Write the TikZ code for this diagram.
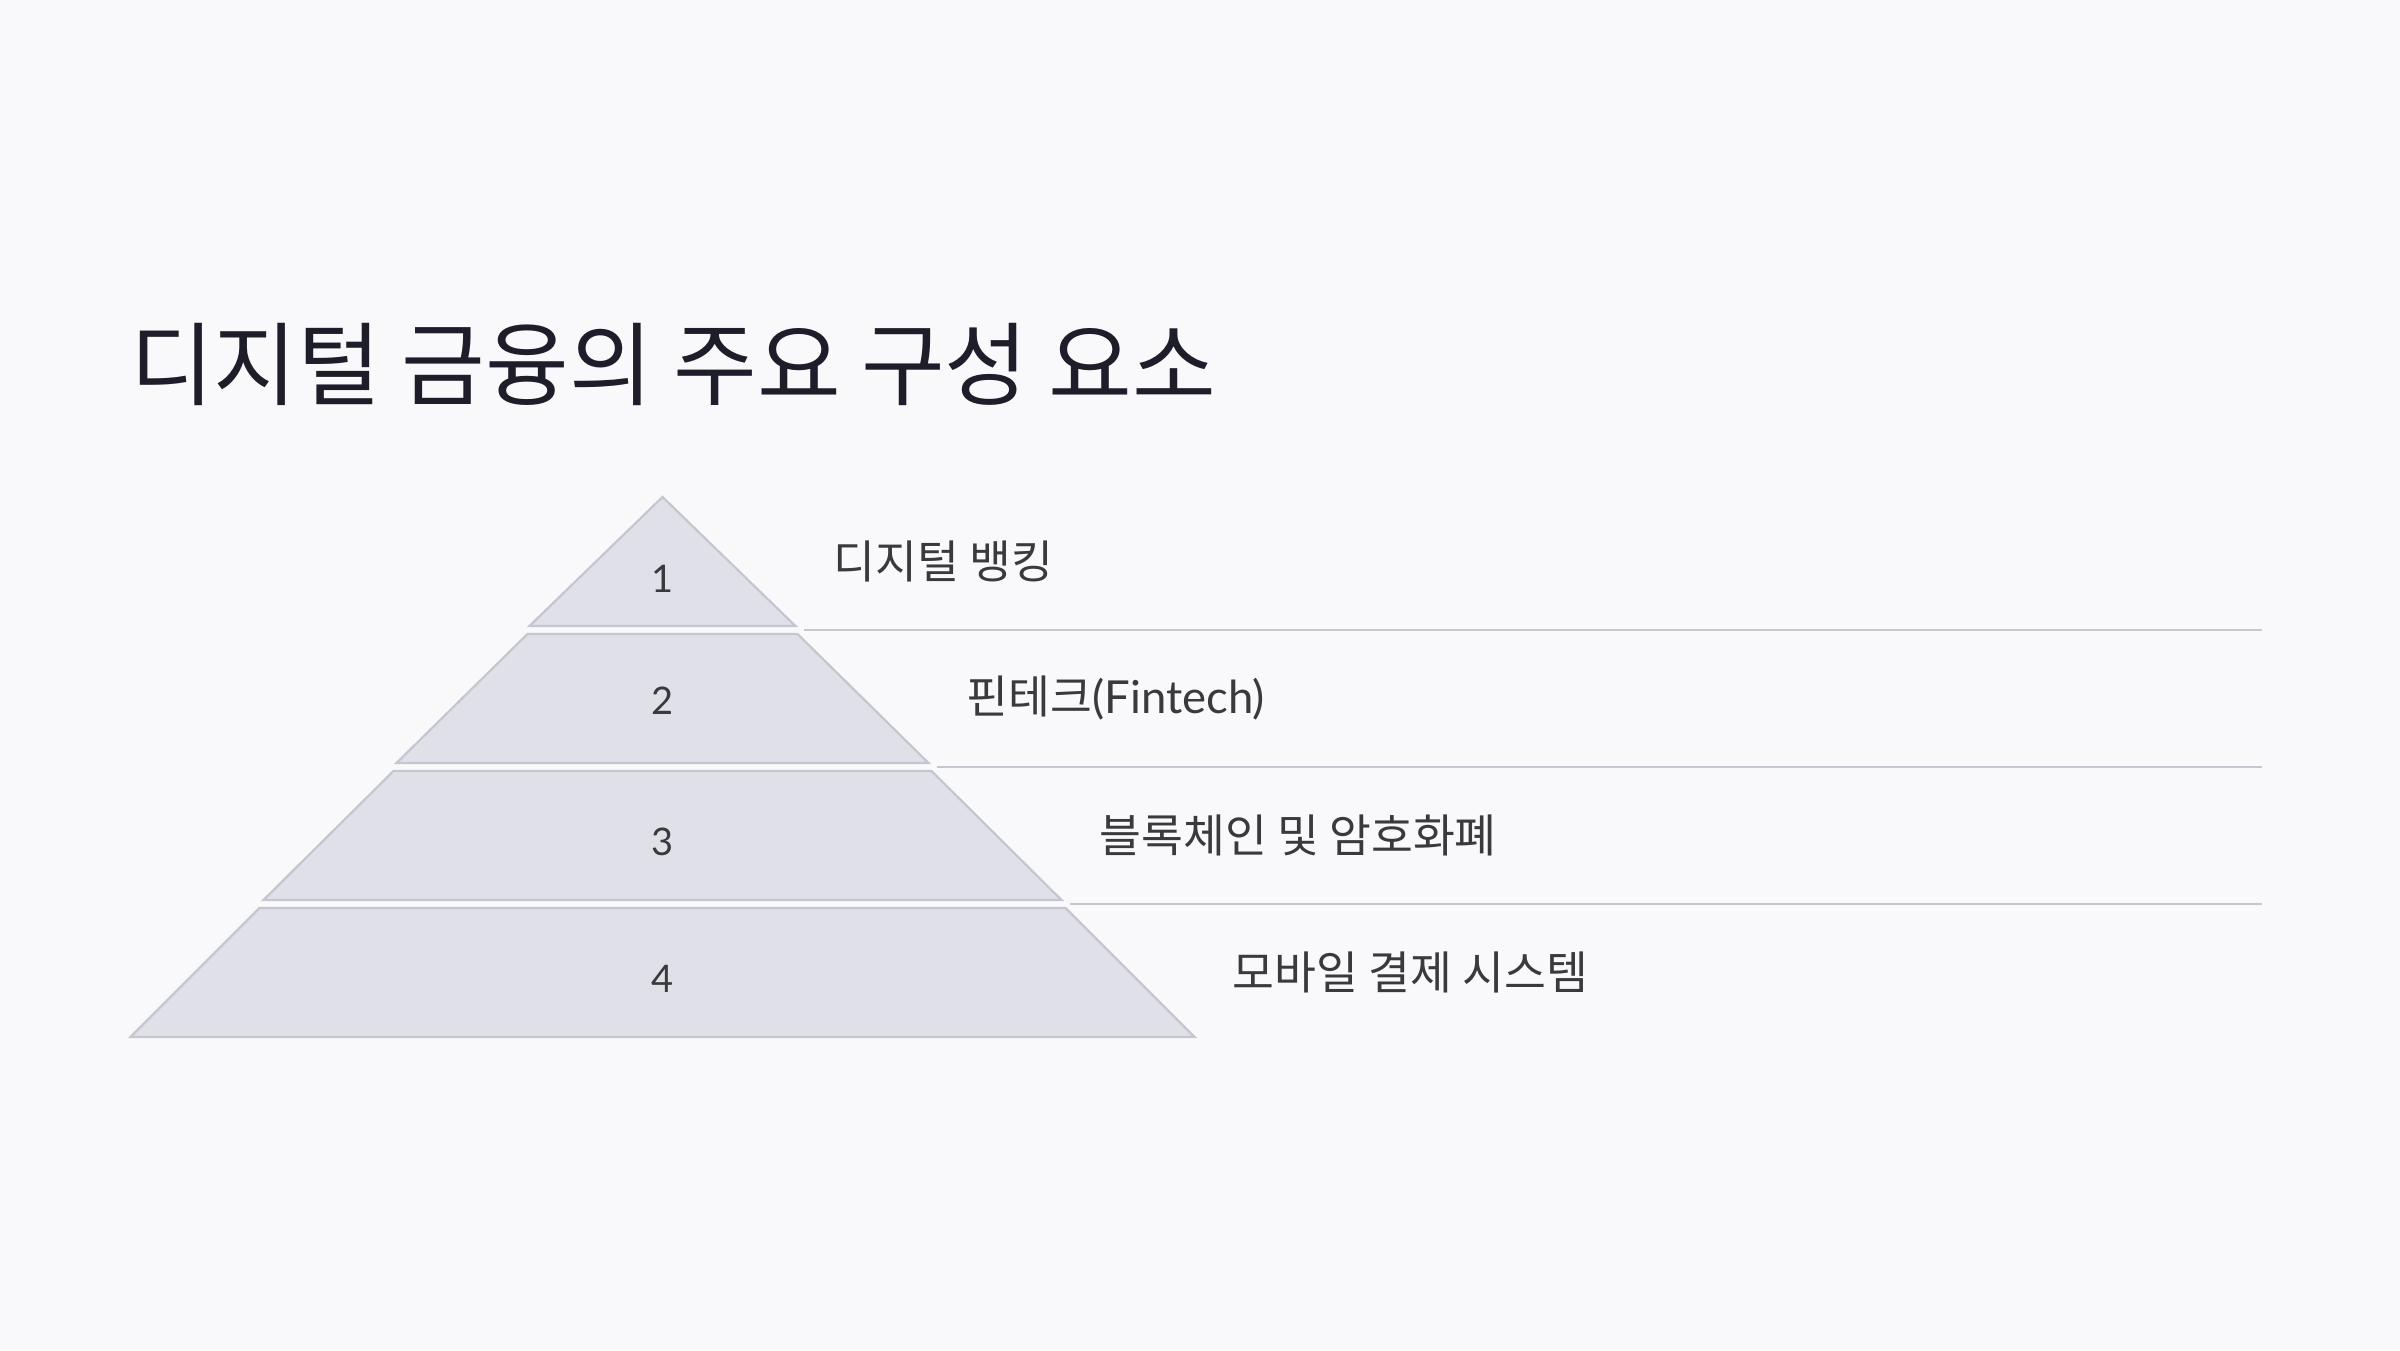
\documentclass[tikz,border=0pt]{standalone}
\usepackage{fontspec}
\setmainfont{Noto Sans CJK KR}
\newfontfamily\latfont{Lato}
\definecolor{bgc}{HTML}{F9F9FB}
\definecolor{layerfill}{HTML}{E0E1E8}
\definecolor{layerdraw}{HTML}{C6C6D0}
\definecolor{titlec}{HTML}{1E1D2A}
\definecolor{labelc}{HTML}{3A3A3C}
\tikzset{
  layer/.style={fill=layerfill, draw=layerdraw, line width=2.2pt, line join=miter},
  sepline/.style={draw=layerdraw, line width=2pt},
  numtext/.style={font=\latfont\fontsize{38}{44}\selectfont, text=labelc, inner sep=0pt},
  labeltext/.style={font=\fontsize{45.5}{54}\selectfont, text=labelc, inner sep=0pt, anchor=west},
}
\begin{document}
\begin{tikzpicture}[x=1pt,y=-1pt]
\useasboundingbox[fill=bgc] (0,0) rectangle (2400,1350);
\node[anchor=base west, font=\fontsize{91}{108}\selectfont, text=titlec, inner sep=0pt] (title) at (130,398) {디지털 금융의 주요 구성 요소};
% layers
\draw[layer] (662.5,497) -- (795.5,626) -- (529.5,626) -- cycle;
\draw[layer] (527.5,634) -- (797.5,634) -- (928.5,763) -- (396.5,763) -- cycle;
\draw[layer] (393.5,771) -- (931.5,771) -- (1061.5,900) -- (263.5,900) -- cycle;
\draw[layer] (259.5,908) -- (1065.5,908) -- (1194.5,1037) -- (130.5,1037) -- cycle;
% numbers
\node[numtext] (n1) at (662.5,579) {1};
\node[numtext] (n2) at (662.5,701) {2};
\node[numtext] (n3) at (662.5,842) {3};
\node[numtext] (n4) at (662.5,979) {4};
% separator lines
\coordinate (s1a) at (803.5,630); \coordinate (s1b) at (2262,630);
\coordinate (s2a) at (936.5,767); \coordinate (s2b) at (2262,767);
\coordinate (s3a) at (1069.5,904); \coordinate (s3b) at (2262,904);
\draw[sepline] (s1a) -- (s1b);
\draw[sepline] (s2a) -- (s2b);
\draw[sepline] (s3a) -- (s3b);
% labels
\node[labeltext] (l1) at (833.5,561) {디지털 뱅킹};
\node[labeltext] (l2) at (966.5,698) {핀테크{\latfont(Fintech)}};
\node[labeltext] (l3) at (1099.5,835) {블록체인 및 암호화폐};
\node[labeltext] (l4) at (1232.5,972) {모바일 결제 시스템};
\end{tikzpicture}
\end{document}
